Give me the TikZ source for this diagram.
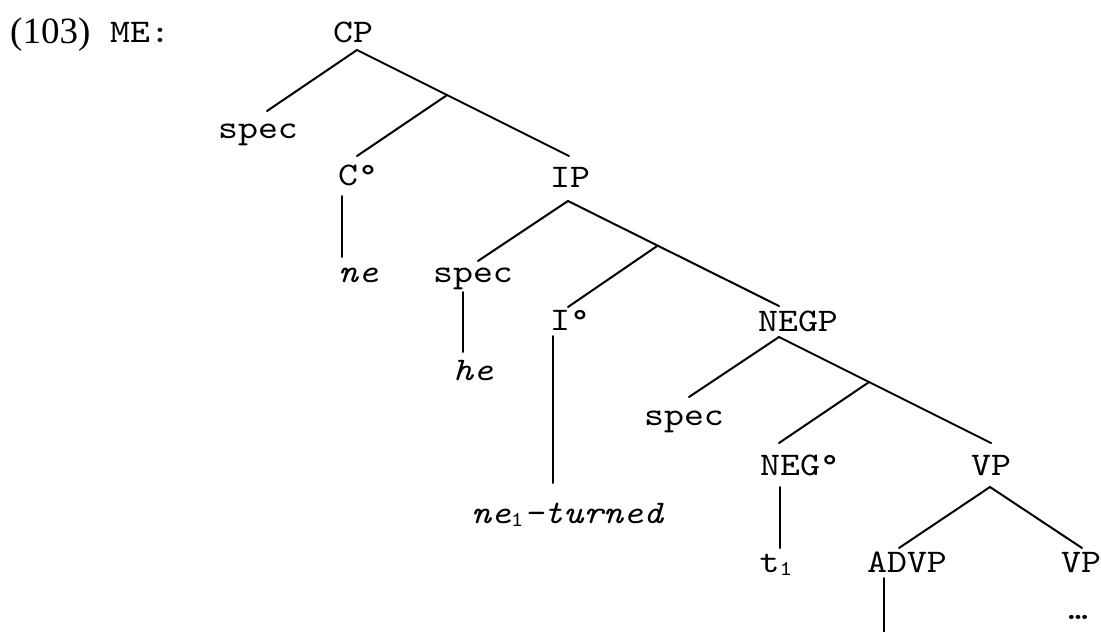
\documentclass[tikz,border=0pt]{standalone}
\usepackage{fontspec}
\setmainfont{Liberation Serif}
% wide typewriter face for the tree labels
\newfontfamily\treeface{lmmono10-regular.otf}[FakeStretch=1.15, ItalicFont=lmmono10-italic.otf]
\usetikzlibrary{calc}
\newcommand\treefont{\fontsize{33}{36}\selectfont\treeface}
% lowered, smaller index digit
\newcommand\idxone{\raisebox{-3pt}{\fontsize{21}{21}\selectfont\upshape 1}}
\begin{document}
\begin{tikzpicture}[x=1pt,y=-1pt,
  lab/.style={font=\treefont, inner sep=0pt, anchor=base},
  word/.style={lab, font=\treefont\itshape},
  branch/.style={line width=2pt, line cap=round}]
\useasboundingbox (0,0) rectangle (1101,632);

% example number and label
\node[font=\fontsize{37}{40}\selectfont, inner sep=0pt, anchor=base west] (exno) at (10,43) {(103)};
\node[lab, anchor=base west] (lang) at (110,42) {ME:};

% tree labels
\node[lab]  (CP)    at (353,42)  {CP};
\node[lab]  (specC) at (258,138) {spec};
\node[lab]  (C0)    at (358,185) {C°};
\node[lab]  (IP)    at (570,187) {IP};
\node[word] (ne)    at (358,282) {ne};
\node[lab]  (specI) at (473,282) {spec};
\node[lab]  (I0)    at (570,330) {I°};
\node[lab]  (NEGP)  at (798,331) {NEGP};
\node[word] (he)    at (473,380) {he};
\node[lab]  (specN) at (684,425) {spec};
\node[word] (verb)  at (567,523) {ne\idxone-turned};
\node[lab]  (NEG0)  at (800,475) {NEG°};
\node[lab]  (VP)    at (991,475) {VP};
\node[lab]  (t)     at (776,572) {t\idxone};
\node[lab]  (ADVP)  at (907,572) {ADVP};
\node[lab]  (VPb)   at (1081,572) {VP};
\node[lab]  (dots)  at (1078,619) {…};

% branch end points
\coordinate (CPa)    at (357,50);
\coordinate (specCt) at (267,111);
\coordinate (IPt)    at (569,156);
\coordinate (C0t)    at (357,156);
\coordinate (C0b)    at (342,196);
\coordinate (neT)    at (342,257);

\coordinate (IPa)    at (568,201);
\coordinate (specIt) at (478,261);
\coordinate (NEGPt)  at (779,306);
\coordinate (I0t)    at (568,307);
\coordinate (specIb) at (463,292);
\coordinate (heT)    at (463,352);
\coordinate (I0b)    at (553,336);
\coordinate (verbT)  at (553,483);

\coordinate (NEGPa)  at (779,337);
\coordinate (specNt) at (689,397);
\coordinate (VPt)    at (991,443);
\coordinate (NEG0t)  at (779,443);
\coordinate (NEG0b)  at (780,487);
\coordinate (tT)     at (780,548);

\coordinate (VPa)    at (990,487);
\coordinate (ADVPt)  at (899,548);
\coordinate (VPbt)   at (1082,548);
\coordinate (ADVPb)  at (884,578);
\coordinate (ADVPe)  at (884,632);

% intermediate (bar-level) junctions on the right branches
\coordinate (J1) at ($(CPa)!0.425!(IPt)$);
\coordinate (J2) at ($(IPa)!0.425!(NEGPt)$);
\coordinate (J3) at ($(NEGPa)!0.425!(VPt)$);

% CP
\draw[branch] (CPa) -- (specCt);
\draw[branch] (CPa) -- (IPt);
\draw[branch] (J1) -- (C0t);
\draw[branch] (C0b) -- (neT);
% IP
\draw[branch] (IPa) -- (specIt);
\draw[branch] (IPa) -- (NEGPt);
\draw[branch] (J2) -- (I0t);
\draw[branch] (specIb) -- (heT);
\draw[branch] (I0b) -- (verbT);
% NEGP
\draw[branch] (NEGPa) -- (specNt);
\draw[branch] (NEGPa) -- (VPt);
\draw[branch] (J3) -- (NEG0t);
\draw[branch] (NEG0b) -- (tT);
% VP
\draw[branch] (VPa) -- (ADVPt);
\draw[branch] (VPa) -- (VPbt);
\draw[branch] (ADVPb) -- (ADVPe);
\end{tikzpicture}
\end{document}
